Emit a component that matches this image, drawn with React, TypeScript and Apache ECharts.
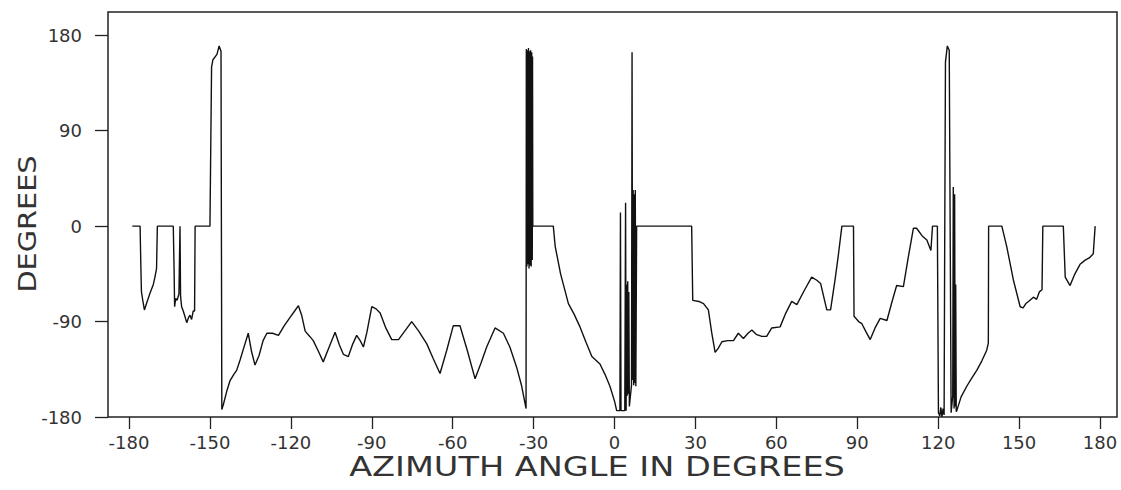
import React, { useEffect, useRef } from "react";
import * as echarts from "echarts";

// Azimuth angle (deg) of each sampled point
const azimuth: number[] = [
  -178.8, -175.9, -175.6, -175.4, -174.9, -174.3, -173.4, -172.2, -171.0, -170.4, -169.8, -169.5,
  -163.6, -163.3, -163.1, -162.7, -162.2, -161.5, -161.1, -160.9, -160.5, -159.9, -159.3, -158.6,
  -157.9, -157.4, -156.8, -156.2, -155.7, -155.5, -150.0, -149.4, -148.9, -147.4, -146.6, -145.9,
  -145.6, -145.0, -143.8, -142.6, -141.2, -140.1, -138.8, -137.5, -135.8, -134.6, -133.3, -131.8,
  -130.3, -128.9, -126.8, -124.6, -122.5, -120.3, -118.6, -117.2, -116.0, -114.7, -113.0, -111.7,
  -109.8, -108.0, -105.8, -103.6, -102.0, -100.5, -98.7, -97.2, -95.6, -94.3, -93.1, -91.8,
  -90.0, -88.4, -86.9, -84.8, -82.6, -80.1, -77.5, -75.2, -72.6, -69.6, -67.2, -64.7,
  -62.2, -59.8, -57.3, -54.5, -51.7, -49.5, -47.4, -44.3, -41.2, -38.8, -36.3, -34.5,
  -32.8, -32.7, -32.5, -32.3, -32.1, -31.9, -31.7, -31.5, -31.3, -31.1, -30.9, -30.7,
  -30.5, -30.4, -30.3, -22.7, -22.0, -20.0, -17.1, -15.0, -12.8, -10.5, -8.4, -5.4,
  -3.5, -1.7, 0.0, 0.8, 2.0, 2.2, 2.4, 3.8, 4.1, 4.3, 4.5, 4.7,
  4.9, 5.1, 5.3, 5.5, 6.3, 6.5, 6.7, 6.9, 7.1, 7.3, 7.5, 7.7,
  7.9, 8.2, 28.6, 29.0, 31.3, 33.0, 34.8, 36.0, 37.3, 38.5, 39.8, 42.0,
  44.1, 45.9, 47.8, 49.5, 50.9, 52.5, 54.6, 56.4, 58.3, 61.4, 63.5, 65.7,
  67.6, 70.5, 73.1, 75.0, 76.4, 78.7, 80.1, 81.8, 83.0, 84.3, 88.6, 88.8,
  90.5, 91.7, 93.3, 94.8, 96.6, 98.5, 101.0, 102.8, 104.6, 107.1, 109.0, 110.8,
  112.0, 114.0, 115.8, 117.3, 117.9, 119.7, 120.1, 120.6, 121.0, 121.4, 121.8, 122.2,
  122.4, 122.7, 123.4, 124.1, 124.8, 125.4, 125.6, 125.9, 126.1, 126.3, 126.5, 126.7,
  126.9, 128.5, 130.6, 132.5, 134.3, 136.2, 138.0, 138.6, 138.7, 143.6, 145.4, 147.9,
  150.4, 151.5, 152.5, 153.5, 155.3, 156.5, 157.5, 158.5, 158.8, 166.4, 167.1, 168.9,
  170.5, 172.6, 174.5, 176.0, 177.5, 178.2,
];

// Measured angle (deg) at each azimuth
const phase: number[] = [
  0, 0, -40, -62, -70, -79, -72, -63, -55, -48, -40, 0,
  0, -40, -76, -68, -70, -64, 0, -66, -76, -80, -85, -91,
  -86, -84, -88, -80, -80, 0, 0, 150, 157, 162, 170, 165,
  -173, -168, -156, -146, -140, -136, -126, -115, -101, -118, -131, -122,
  -108, -101, -101, -103, -94, -86, -80, -75, -84, -99, -104, -108,
  -118, -128, -114, -100, -112, -121, -123, -112, -103, -108, -114, -100,
  -76, -78, -82, -96, -107, -107, -98, -90, -99, -111, -125, -139,
  -117, -94, -94, -118, -144, -129, -114, -96, -101, -114, -133, -150,
  -172, 167, -38, 166, -36, 168, -40, 165, -37, 166, -38, 164,
  -32, 160, 0, 0, -19, -45, -73, -83, -95, -110, -123, -130,
  -140, -151, -165, -174, -174, 13, -174, -174, 22, -174, -55, -160,
  -52, -158, -62, -170, -150, 164, -145, 34, -150, 30, -148, 34,
  -151, 0, 0, -70, -71, -73, -79, -100, -119, -115, -109, -108,
  -108, -101, -106, -101, -98, -102, -104, -104, -96, -95, -82, -71,
  -74, -60, -48, -51, -54, -79, -79, -50, -27, 0, 0, -85,
  -90, -92, -100, -107, -96, -87, -89, -72, -56, -57, -28, -2,
  -2, -9, -13, -23, 0, 0, -176, -179, -171, -180, -172, -178,
  -29, 155, 170, 166, -176, -160, 37, -172, 30, -170, -55, -175,
  -174, -161, -151, -143, -136, -127, -117, -110, 0, 0, -19, -51,
  -76, -77, -73, -71, -67, -69, -62, -60, 0, 0, -48, -56,
  -46, -36, -32, -30, -26, 0,
];

const xTicks: number[] = [-180, -150, -120, -90, -60, -30, 0, 30, 60, 90, 120, 150, 180];
const yTicks: number[] = [-180, -90, 0, 90, 180];

const xTitle = "AZIMUTH ANGLE IN DEGREES";
const yTitle = "DEGREES";

export default function App() {
  const ref = useRef<HTMLDivElement>(null);
  useEffect(() => {
    if (!ref.current) return;
    const chart = echarts.init(ref.current, null, { renderer: "svg" });
    const data = azimuth.map((x, i) => [x, phase[i]]);
    const labelFont = {
      color: "#333",
      fontSize: 18,
      fontFamily: "DejaVu Sans",
    };
    chart.setOption({
      animation: false,
      backgroundColor: "#ffffff",
      grid: {
        left: 108,
        right: 4,
        top: 12,
        bottom: 73,
        show: true,
        borderColor: "#222",
        borderWidth: 1.5,
        backgroundColor: "transparent",
      },
      xAxis: {
        type: "value",
        min: -187.8,
        max: 186.3,
        axisLine: { show: false, onZero: false },
        splitLine: { show: false },
        axisTick: {
          show: true,
          customValues: xTicks,
          length: 12,
          lineStyle: { color: "#222", width: 1.3 },
        },
        axisLabel: {
          customValues: xTicks,
          margin: 16,
          formatter: (v: number) => String(v),
          ...labelFont,
        },
      },
      yAxis: {
        type: "value",
        min: -180,
        max: 202,
        axisLine: { show: false, onZero: false },
        splitLine: { show: false },
        axisTick: {
          show: true,
          customValues: yTicks,
          length: 13,
          lineStyle: { color: "#222", width: 1.3 },
        },
        axisLabel: {
          customValues: yTicks,
          margin: 26,
          formatter: (v: number) => String(v),
          ...labelFont,
        },
      },
      series: [
        {
          type: "line",
          data,
          showSymbol: false,
          symbol: "none",
          silent: true,
          lineStyle: { color: "#111", width: 1.4 },
        },
      ],
      graphic: [
        {
          type: "text",
          x: 597,
          y: 467,
          scaleX: 1.29,
          style: {
            text: xTitle,
            fontSize: 26,
            fontFamily: "DejaVu Sans",
            fill: "#333",
            align: "center",
            verticalAlign: "middle",
          },
        },
        {
          type: "text",
          x: 27,
          y: 224,
          rotation: Math.PI / 2,
          scaleX: 1.15,
          style: {
            text: yTitle,
            fontSize: 25,
            fontFamily: "DejaVu Sans",
            fill: "#333",
            align: "center",
            verticalAlign: "middle",
          },
        },
      ],
    });
    return () => chart.dispose();
  }, []);
  return (
    <div
      ref={ref}
      style={{ position: "fixed", left: 0, top: 0, width: 1121, height: 490 }}
    />
  );
}
